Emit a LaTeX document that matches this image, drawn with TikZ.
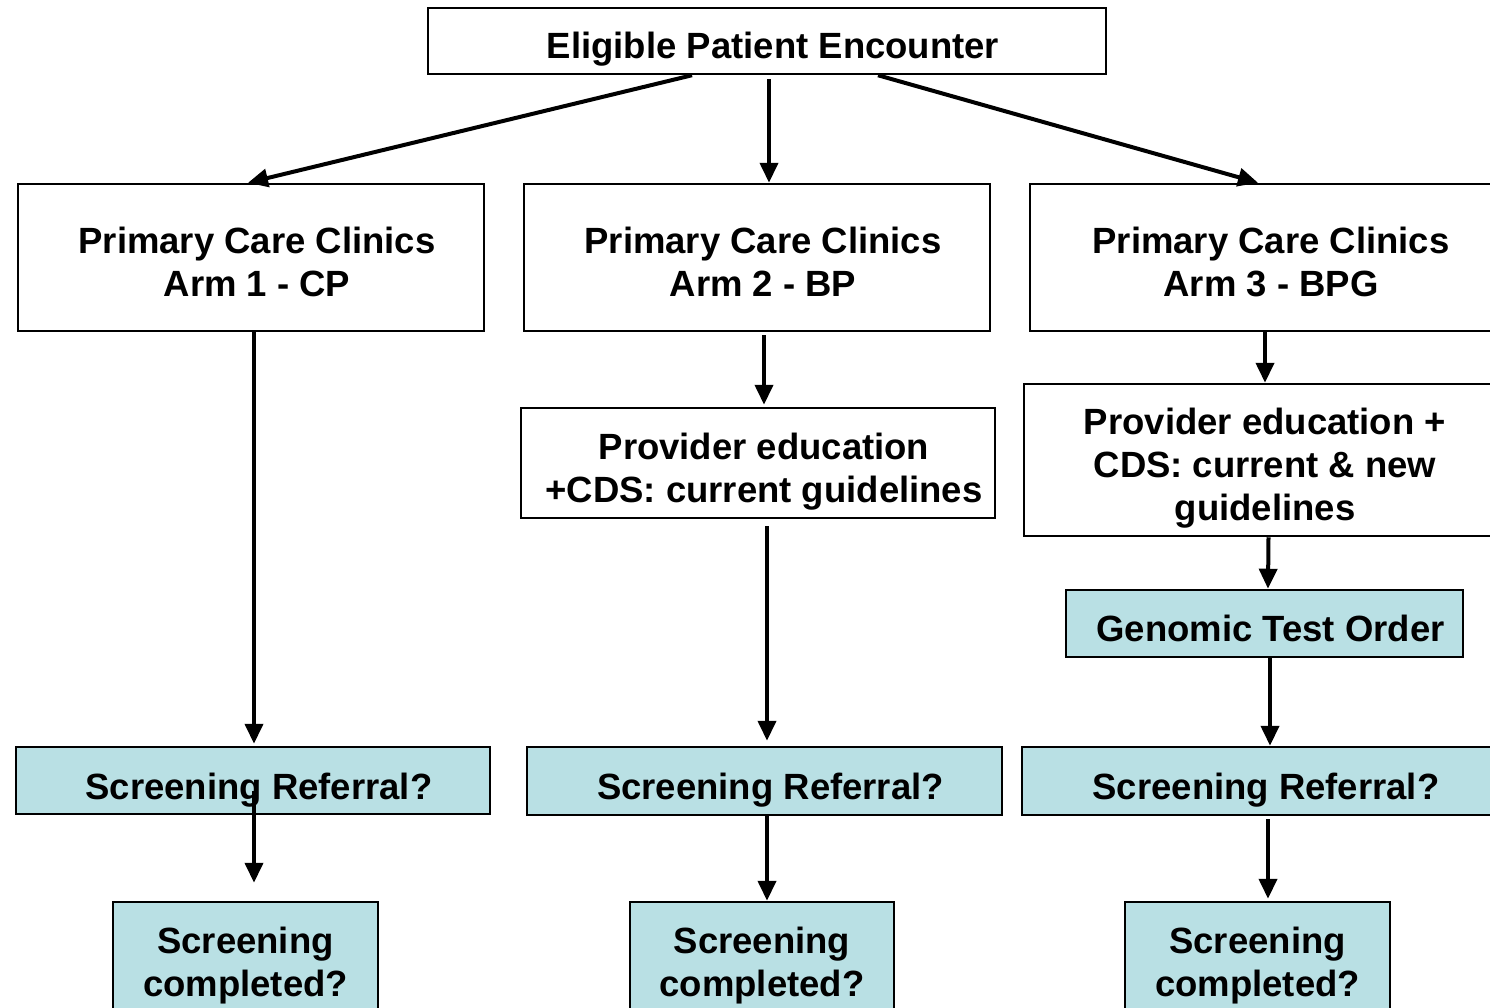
\documentclass[tikz,border=0pt]{standalone}
\usepackage{fontspec}
\setmainfont{Liberation Sans}
\usetikzlibrary{arrows.meta,calc}
\definecolor{boxblue}{RGB}{185,224,228}
\newcommand{\lsh}{\hspace*{12pt}}
\begin{document}
\begin{tikzpicture}[x=1pt,y=-1pt,
 box/.style={draw=black, line width=2.5pt, fill=white, inner sep=0pt, align=center,
   font=\fontsize{36.5}{43}\selectfont\bfseries},
 qbox/.style={box, fill=boxblue},
 th/.style={text height=#1, text depth=0pt},
 arr/.style={line width=4pt, -{Triangle[length=20pt,width=18pt]}}]
\useasboundingbox (0,0) rectangle (1490,1007);
\clip (0,0) rectangle (1490,1007);
\fill[white] (0,0) rectangle (1490,1007);

\node[box, th=34pt, minimum width=678pt, minimum height=66pt] (top) at (767,41) {\lsh Eligible Patient Encounter};

\node[box, th=77pt, minimum width=466pt, minimum height=147pt] (arm1) at (251,257.5) {\lsh Primary Care Clinics\\\lsh Arm 1 - CP};
\node[box, th=77pt, minimum width=466pt, minimum height=147pt] (arm2) at (757,257.5) {\lsh Primary Care Clinics\\\lsh Arm 2 - BP};
\node[box, th=77pt, minimum width=470pt, minimum height=147pt] (arm3) at (1265,257.5) {\lsh Primary Care Clinics\\\lsh Arm 3 - BPG};

\node[box, th=78pt, minimum width=474pt, minimum height=110pt] (prov2) at (758,463) {\lsh Provider education\\\lsh +CDS: current guidelines};
\node[box, th=120pt, minimum width=482pt, minimum height=152pt] (prov3) at (1265,460) {Provider education +\\CDS: current \& new\\guidelines};
\node[qbox, th=35pt, minimum width=397pt, minimum height=67pt] (gen) at (1264.5,623.5) {\lsh Genomic Test Order};

\node[qbox, th=37pt, minimum width=474pt, minimum height=67pt] (ref1) at (253,780.5) {\lsh Screening Referral?};
\node[qbox, th=36pt, minimum width=475pt, minimum height=68pt] (ref2) at (764.5,781) {\lsh Screening Referral?};
\node[qbox, th=36pt, minimum width=488pt, minimum height=68pt] (ref3) at (1266,781) {Screening Referral?};

\node[qbox, th=69pt, minimum width=265pt, minimum height=119pt] (comp1) at (245.5,961.5) {Screening\\completed?};
\node[qbox, th=69pt, minimum width=264pt, minimum height=119pt] (comp2) at (762,961.5) {Screening\\completed?};
\node[qbox, th=69pt, minimum width=265pt, minimum height=119pt] (comp3) at (1257.5,961.5) {Screening\\completed?};

\draw[arr] ([xshift=-75pt]top.south) -- ([xshift=-3pt]arm1.north);
\draw[arr] ([xshift=2pt,yshift=-4pt]top.south) -- ([xshift=12pt]arm2.north);
\draw[arr] ([xshift=111pt]top.south) -- ([xshift=-7pt]arm3.north);

\draw[arr] ([xshift=3pt]arm1.south) -- ([xshift=1pt,yshift=2pt]ref1.north);
\draw[arr] ([xshift=1pt,yshift=-10pt]ref1.center) -- ([xshift=8.5pt,yshift=18pt]comp1.north);

\draw[arr] ([xshift=7pt,yshift=-3pt]arm2.south) -- ([xshift=6pt,yshift=2pt]prov2.north);
\draw[arr] ([xshift=9pt,yshift=-7pt]prov2.south) -- ([xshift=2.5pt,yshift=5pt]ref2.north);
\draw[arr] ([xshift=2.5pt]ref2.south) -- ([xshift=5pt]comp2.north);

\draw[arr] (arm3.south) -- (prov3.north);
\draw[arr] ([xshift=3.5pt]prov3.south) -- ([xshift=3.5pt]gen.north);
\draw[arr] ([xshift=5.5pt,yshift=2pt]gen.south) -- ([xshift=4pt]ref3.north);
\draw[arr] ([xshift=2pt,yshift=-3pt]ref3.south) -- ([xshift=10.5pt,yshift=2pt]comp3.north);
\end{tikzpicture}
\end{document}
